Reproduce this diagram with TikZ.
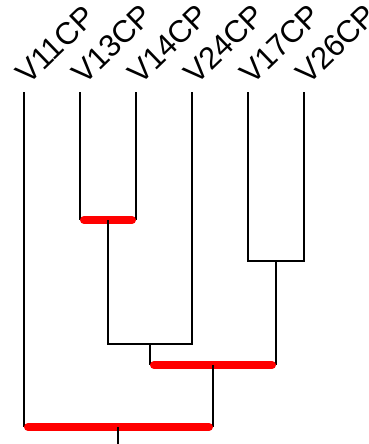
\documentclass[tikz,border=0pt]{standalone}
\usepackage{fontspec}
\setmainfont{Liberation Sans}

\def\leafTop{92}
\def\leafGap{56}
\def\barCap{4pt}

\begin{document}
\begin{tikzpicture}[x = 1pt, y = -1pt,
    link/.style = {line width = 1.2pt},
    hot/.style = {red, line width = 8pt, line cap = round,
        shorten < = \barCap, shorten > = \barCap},
    leaflabel/.style = {rotate = 44, anchor = base west, inner sep = 0pt,
        font = \fontsize{31}{31}\selectfont}]
            \useasboundingbox (0,0) rectangle (368,444);
            \foreach \name [count = \i from 0] in {V11CP,V13CP,V14CP,V24CP,V17CP,V26CP}
            {
                \coordinate (leaf\i) at ({24 + \i*\leafGap},\leafTop);
                \node [leaflabel] (label\i) at ([shift = {(4,-6)}]leaf\i) {\name};
            }
            % merge points
            \coordinate (m1) at (108,220);
            \coordinate (m2) at (276,261);
            \coordinate (m3) at (150,344);
            \coordinate (m4) at (213,365);
            \coordinate (m5) at (118,427);
            \coordinate (root) at (118,444);
            \draw [link]
            (leaf1) -- (leaf1 |- m1)
            (leaf2) -- (leaf2 |- m1)
            (leaf0) -- (leaf0 |- m5)
            (m2) -- (m2 |- m4)
            (m3) -- (m3 |- m4)
            (m4) -- (m4 |- m5)
            ;
            \draw [hot] (leaf1 |- m1) -- (leaf2 |- m1);
            \draw [hot] (m3 |- m4) -- (m2 |- m4);
            \draw [hot] (leaf0 |- m5) -- (m4 |- m5);
            \draw [link]
            (m1) |- (m3) -| (leaf3)
            (leaf4) |- (m2) -| (leaf5)
            (m4) -- ++(0,10)
            (m5) -- (root)
            ;
        \end{tikzpicture}
\end{document}
